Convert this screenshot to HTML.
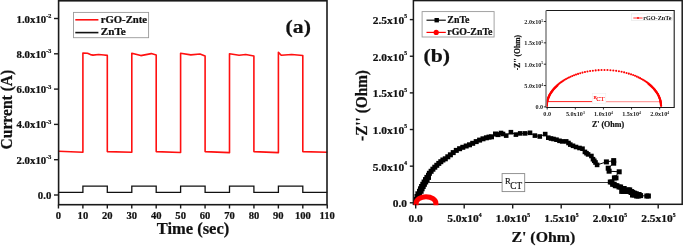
<!DOCTYPE html>
<html><head><meta charset="utf-8"><style>
html,body{margin:0;padding:0;background:#fff;}
body{width:684px;height:246px;overflow:hidden;}
svg{display:block;font-family:"Liberation Serif", serif;will-change:transform;}
text{stroke:#111;stroke-width:0.22px;}
text.n{stroke:none;}
</style></head><body>
<svg width="684" height="246" viewBox="0 0 684 246">
<rect width="684" height="246" fill="#fff"/>
<path d="M58.5,151.3 L82.9,152.3 L82.9,53.0 L87.5,53.3 L90.5,54.6 L93.0,55.1 L98.7,54.5 L104.0,55.0 L107.3,55.4 L107.3,151.6 L131.8,152.3 L131.8,53.2 L140.8,55.6 L151.3,53.6 L156.2,54.9 L156.2,151.6 L180.6,152.5 L180.6,53.2 L190.8,54.9 L200.0,54.0 L205.1,56.0 L205.1,151.6 L229.5,152.6 L229.5,53.8 L239.1,55.3 L245.7,54.5 L253.9,56.0 L253.9,151.6 L278.4,152.6 L278.4,52.2 L281.2,55.3 L291.7,54.5 L302.8,55.5 L302.8,151.6 L327.2,152.2" fill="none" stroke="#ff1010" stroke-width="1.6" stroke-linejoin="round"/>
<path d="M58.5,192.3 L82.9,192.3 L82.9,186.2 L107.3,186.2 L107.3,192.3 L131.8,192.3 L131.8,186.2 L156.2,186.2 L156.2,192.3 L180.6,192.3 L180.6,186.2 L205.1,186.2 L205.1,192.3 L229.5,192.3 L229.5,186.2 L253.9,186.2 L253.9,192.3 L278.4,192.3 L278.4,186.2 L302.8,186.2 L302.8,192.3 L327.2,192.3" fill="none" stroke="#111" stroke-width="1.3"/>
<rect x="58.6" y="0.8" width="268.40" height="203.90" fill="none" stroke="#1a1a1a" stroke-width="1.6"/>
<line x1="54" y1="195.00" x2="58.6" y2="195.00" stroke="#1a1a1a" stroke-width="1.4"/>
<text transform="translate(51.30,199.00) scale(1.1,1)" text-anchor="end" font-size="9.8" font-weight="bold" fill="#111" >0.0</text>
<line x1="54" y1="159.70" x2="58.6" y2="159.70" stroke="#1a1a1a" stroke-width="1.4"/>
<text transform="translate(51.30,163.70) scale(1.1,1)" text-anchor="end" font-size="9.8" font-weight="bold" fill="#111" >2.0x10<tspan dy="-4.6" font-size="5.6">-3</tspan></text>
<line x1="54" y1="124.40" x2="58.6" y2="124.40" stroke="#1a1a1a" stroke-width="1.4"/>
<text transform="translate(51.30,128.40) scale(1.1,1)" text-anchor="end" font-size="9.8" font-weight="bold" fill="#111" >4.0x10<tspan dy="-4.6" font-size="5.6">-3</tspan></text>
<line x1="54" y1="89.10" x2="58.6" y2="89.10" stroke="#1a1a1a" stroke-width="1.4"/>
<text transform="translate(51.30,93.10) scale(1.1,1)" text-anchor="end" font-size="9.8" font-weight="bold" fill="#111" >6.0x10<tspan dy="-4.6" font-size="5.6">-3</tspan></text>
<line x1="54" y1="53.80" x2="58.6" y2="53.80" stroke="#1a1a1a" stroke-width="1.4"/>
<text transform="translate(51.30,57.80) scale(1.1,1)" text-anchor="end" font-size="9.8" font-weight="bold" fill="#111" >8.0x10<tspan dy="-4.6" font-size="5.6">-3</tspan></text>
<line x1="54" y1="18.50" x2="58.6" y2="18.50" stroke="#1a1a1a" stroke-width="1.4"/>
<text transform="translate(51.30,22.50) scale(1.1,1)" text-anchor="end" font-size="9.8" font-weight="bold" fill="#111" >1.0x10<tspan dy="-4.6" font-size="5.6">-2</tspan></text>
<line x1="58.45" y1="204.7" x2="58.45" y2="208.5" stroke="#1a1a1a" stroke-width="1.4"/>
<text transform="translate(58.45,219.20) scale(1.08,1)" text-anchor="middle" font-size="9.8" font-weight="bold" fill="#111" >0</text>
<line x1="82.89" y1="204.7" x2="82.89" y2="208.5" stroke="#1a1a1a" stroke-width="1.4"/>
<text transform="translate(82.89,219.20) scale(1.08,1)" text-anchor="middle" font-size="9.8" font-weight="bold" fill="#111" >10</text>
<line x1="107.32" y1="204.7" x2="107.32" y2="208.5" stroke="#1a1a1a" stroke-width="1.4"/>
<text transform="translate(107.32,219.20) scale(1.08,1)" text-anchor="middle" font-size="9.8" font-weight="bold" fill="#111" >20</text>
<line x1="131.76" y1="204.7" x2="131.76" y2="208.5" stroke="#1a1a1a" stroke-width="1.4"/>
<text transform="translate(131.76,219.20) scale(1.08,1)" text-anchor="middle" font-size="9.8" font-weight="bold" fill="#111" >30</text>
<line x1="156.19" y1="204.7" x2="156.19" y2="208.5" stroke="#1a1a1a" stroke-width="1.4"/>
<text transform="translate(156.19,219.20) scale(1.08,1)" text-anchor="middle" font-size="9.8" font-weight="bold" fill="#111" >40</text>
<line x1="180.63" y1="204.7" x2="180.63" y2="208.5" stroke="#1a1a1a" stroke-width="1.4"/>
<text transform="translate(180.63,219.20) scale(1.08,1)" text-anchor="middle" font-size="9.8" font-weight="bold" fill="#111" >50</text>
<line x1="205.07" y1="204.7" x2="205.07" y2="208.5" stroke="#1a1a1a" stroke-width="1.4"/>
<text transform="translate(205.07,219.20) scale(1.08,1)" text-anchor="middle" font-size="9.8" font-weight="bold" fill="#111" >60</text>
<line x1="229.50" y1="204.7" x2="229.50" y2="208.5" stroke="#1a1a1a" stroke-width="1.4"/>
<text transform="translate(229.50,219.20) scale(1.08,1)" text-anchor="middle" font-size="9.8" font-weight="bold" fill="#111" >70</text>
<line x1="253.94" y1="204.7" x2="253.94" y2="208.5" stroke="#1a1a1a" stroke-width="1.4"/>
<text transform="translate(253.94,219.20) scale(1.08,1)" text-anchor="middle" font-size="9.8" font-weight="bold" fill="#111" >80</text>
<line x1="278.37" y1="204.7" x2="278.37" y2="208.5" stroke="#1a1a1a" stroke-width="1.4"/>
<text transform="translate(278.37,219.20) scale(1.08,1)" text-anchor="middle" font-size="9.8" font-weight="bold" fill="#111" >90</text>
<line x1="302.81" y1="204.7" x2="302.81" y2="208.5" stroke="#1a1a1a" stroke-width="1.4"/>
<text transform="translate(302.81,219.20) scale(1.08,1)" text-anchor="middle" font-size="9.8" font-weight="bold" fill="#111" >100</text>
<line x1="327.25" y1="204.7" x2="327.25" y2="208.5" stroke="#1a1a1a" stroke-width="1.4"/>
<text transform="translate(327.25,219.20) scale(1.08,1)" text-anchor="middle" font-size="9.8" font-weight="bold" fill="#111" >110</text>
<text transform="translate(193.00,234.40) scale(1.045,1)" text-anchor="middle" font-size="15.8" font-weight="bold" fill="#111" >Time (sec)</text>
<text transform="translate(12.1,109.6) rotate(-90) scale(1,1.12)" text-anchor="middle" font-size="15.6" font-weight="bold" fill="#111">Current (A)</text>
<text transform="translate(285.60,33.00) scale(1.13,1)" text-anchor="start" font-size="19.2" font-weight="bold" fill="#111" >(a)</text>
<rect x="73.5" y="12.4" width="75.1" height="25.3" fill="#fff" stroke="#999" stroke-width="0.9"/>
<line x1="75.3" y1="19.8" x2="98.4" y2="19.8" stroke="#ff1010" stroke-width="1.6"/>
<line x1="75.3" y1="32.6" x2="98.4" y2="32.6" stroke="#111" stroke-width="1.6"/>
<text transform="translate(100.70,22.80) scale(1.14,1)" text-anchor="start" font-size="9.4" font-weight="bold" fill="#111" >rGO-Znte</text>
<text transform="translate(100.70,35.40) scale(1.19,1)" text-anchor="start" font-size="9.4" font-weight="bold" fill="#111" >ZnTe</text>
<line x1="427" y1="182.5" x2="609.6" y2="182.5" stroke="#333" stroke-width="1.1"/>
<rect x="502.1" y="173.6" width="22.6" height="18.0" fill="#fff" stroke="#888" stroke-width="0.9"/>
<text class="n" x="505.0" y="184.3" font-size="8.6" fill="#111" style="stroke:#111;stroke-width:0.15px">R</text>
<text class="n" x="510.3" y="188.7" font-size="9.3" fill="#111" style="stroke:#111;stroke-width:0.15px">CT</text>
<polyline points="415.5,202.5 416.2,199.5 417.0,196.5 417.9,193.8 419.5,191.3 420.5,188.8 421.6,186.5 422.8,184.3 424.1,182.0 425.5,179.6 426.9,177.4 428.5,175.3 429.4,173.3 431.1,171.3 432.9,169.2 434.8,167.2 436.8,165.3 438.8,163.4 440.8,161.7 442.9,160.0 445.3,158.8 447.8,156.8 450.4,154.8 453.2,152.6 456.3,150.4 459.6,148.7 462.8,147.3 466.2,146.0 469.5,144.8 472.7,143.3 476.2,141.6 479.6,140.1 483.0,138.8 486.4,137.8 489.0,137.1 491.5,136.8 495.5,134.0 498.0,134.6 501.0,133.0 503.0,134.0 506.2,135.6 510.9,132.2 515.9,134.6 520.2,133.4 525.1,133.4 530.0,132.8 534.9,135.6 539.8,136.5 545.2,134.1 548.3,137.7 551.0,138.5 553.5,139.0 556.5,139.7 559.5,140.8 562.2,141.4 566.2,141.4 568.5,143.0 570.3,144.6 573.0,145.8 576.0,147.0 579.5,148.0 582.5,148.7 584.9,151.9 586.5,153.2 588.1,154.4 591.4,156.0 593.0,159.2 594.3,160.8 595.5,162.5 597.1,164.9 606.4,161.9 613.7,160.6 613.7,163.2 608.2,168.2 609.1,171.2 619.2,171.8 614.4,177.9 610.3,182.0 612.6,184.3 615.3,185.7 619.0,187.0 621.7,191.4 622.6,188.5 624.5,190.4 628.1,189.9 626.7,191.5 630.1,191.6 631.1,192.5 633.0,193.2 632.5,195.0 634.7,193.8 636.6,196.0 637.5,194.5 639.0,195.6 646.8,196.0" fill="none" stroke="#000" stroke-width="1"/>
<rect x="413.00" y="200.00" width="5.0" height="5.0" fill="#000"/>
<rect x="413.70" y="197.00" width="5.0" height="5.0" fill="#000"/>
<rect x="414.50" y="194.00" width="5.0" height="5.0" fill="#000"/>
<rect x="415.40" y="191.30" width="5.0" height="5.0" fill="#000"/>
<rect x="417.00" y="188.80" width="5.0" height="5.0" fill="#000"/>
<rect x="418.00" y="186.30" width="5.0" height="5.0" fill="#000"/>
<rect x="419.10" y="184.00" width="5.0" height="5.0" fill="#000"/>
<rect x="420.30" y="181.80" width="5.0" height="5.0" fill="#000"/>
<rect x="421.60" y="179.50" width="5.0" height="5.0" fill="#000"/>
<rect x="423.00" y="177.10" width="5.0" height="5.0" fill="#000"/>
<rect x="424.40" y="174.90" width="5.0" height="5.0" fill="#000"/>
<rect x="426.00" y="172.80" width="5.0" height="5.0" fill="#000"/>
<rect x="426.90" y="170.80" width="5.0" height="5.0" fill="#000"/>
<rect x="428.60" y="168.80" width="5.0" height="5.0" fill="#000"/>
<rect x="430.40" y="166.70" width="5.0" height="5.0" fill="#000"/>
<rect x="432.30" y="164.70" width="5.0" height="5.0" fill="#000"/>
<rect x="434.30" y="162.80" width="5.0" height="5.0" fill="#000"/>
<rect x="436.30" y="160.90" width="5.0" height="5.0" fill="#000"/>
<rect x="438.30" y="159.20" width="5.0" height="5.0" fill="#000"/>
<rect x="440.40" y="157.50" width="5.0" height="5.0" fill="#000"/>
<rect x="442.80" y="156.30" width="5.0" height="5.0" fill="#000"/>
<rect x="445.30" y="154.30" width="5.0" height="5.0" fill="#000"/>
<rect x="447.90" y="152.30" width="5.0" height="5.0" fill="#000"/>
<rect x="450.70" y="150.10" width="5.0" height="5.0" fill="#000"/>
<rect x="453.80" y="147.90" width="5.0" height="5.0" fill="#000"/>
<rect x="457.10" y="146.20" width="5.0" height="5.0" fill="#000"/>
<rect x="460.30" y="144.80" width="5.0" height="5.0" fill="#000"/>
<rect x="463.70" y="143.50" width="5.0" height="5.0" fill="#000"/>
<rect x="467.00" y="142.30" width="5.0" height="5.0" fill="#000"/>
<rect x="470.20" y="140.80" width="5.0" height="5.0" fill="#000"/>
<rect x="473.70" y="139.10" width="5.0" height="5.0" fill="#000"/>
<rect x="477.10" y="137.60" width="5.0" height="5.0" fill="#000"/>
<rect x="480.50" y="136.30" width="5.0" height="5.0" fill="#000"/>
<rect x="483.90" y="135.30" width="5.0" height="5.0" fill="#000"/>
<rect x="486.50" y="134.60" width="5.0" height="5.0" fill="#000"/>
<rect x="489.00" y="134.30" width="5.0" height="5.0" fill="#000"/>
<rect x="493.00" y="131.50" width="5.0" height="5.0" fill="#000"/>
<rect x="495.50" y="132.10" width="5.0" height="5.0" fill="#000"/>
<rect x="498.70" y="130.70" width="4.6" height="4.6" fill="#000"/>
<rect x="500.70" y="131.70" width="4.6" height="4.6" fill="#000"/>
<rect x="503.90" y="133.30" width="4.6" height="4.6" fill="#000"/>
<rect x="508.60" y="129.90" width="4.6" height="4.6" fill="#000"/>
<rect x="513.60" y="132.30" width="4.6" height="4.6" fill="#000"/>
<rect x="517.90" y="131.10" width="4.6" height="4.6" fill="#000"/>
<rect x="522.80" y="131.10" width="4.6" height="4.6" fill="#000"/>
<rect x="527.70" y="130.50" width="4.6" height="4.6" fill="#000"/>
<rect x="532.60" y="133.30" width="4.6" height="4.6" fill="#000"/>
<rect x="537.50" y="134.20" width="4.6" height="4.6" fill="#000"/>
<rect x="542.90" y="131.80" width="4.6" height="4.6" fill="#000"/>
<rect x="546.00" y="135.40" width="4.6" height="4.6" fill="#000"/>
<rect x="548.70" y="136.20" width="4.6" height="4.6" fill="#000"/>
<rect x="551.20" y="136.70" width="4.6" height="4.6" fill="#000"/>
<rect x="554.20" y="137.40" width="4.6" height="4.6" fill="#000"/>
<rect x="557.20" y="138.50" width="4.6" height="4.6" fill="#000"/>
<rect x="559.90" y="139.10" width="4.6" height="4.6" fill="#000"/>
<rect x="563.90" y="139.10" width="4.6" height="4.6" fill="#000"/>
<rect x="566.20" y="140.70" width="4.6" height="4.6" fill="#000"/>
<rect x="568.00" y="142.30" width="4.6" height="4.6" fill="#000"/>
<rect x="570.70" y="143.50" width="4.6" height="4.6" fill="#000"/>
<rect x="573.70" y="144.70" width="4.6" height="4.6" fill="#000"/>
<rect x="577.20" y="145.70" width="4.6" height="4.6" fill="#000"/>
<rect x="580.20" y="146.40" width="4.6" height="4.6" fill="#000"/>
<rect x="582.60" y="149.60" width="4.6" height="4.6" fill="#000"/>
<rect x="584.20" y="150.90" width="4.6" height="4.6" fill="#000"/>
<rect x="585.80" y="152.10" width="4.6" height="4.6" fill="#000"/>
<rect x="589.10" y="153.70" width="4.6" height="4.6" fill="#000"/>
<rect x="590.70" y="156.90" width="4.6" height="4.6" fill="#000"/>
<rect x="592.00" y="158.50" width="4.6" height="4.6" fill="#000"/>
<rect x="593.20" y="160.20" width="4.6" height="4.6" fill="#000"/>
<rect x="594.80" y="162.60" width="4.6" height="4.6" fill="#000"/>
<rect x="603.90" y="159.40" width="5.0" height="5.0" fill="#000"/>
<rect x="611.20" y="158.10" width="5.0" height="5.0" fill="#000"/>
<rect x="611.20" y="160.70" width="5.0" height="5.0" fill="#000"/>
<rect x="605.70" y="165.70" width="5.0" height="5.0" fill="#000"/>
<rect x="606.60" y="168.70" width="5.0" height="5.0" fill="#000"/>
<rect x="616.70" y="169.30" width="5.0" height="5.0" fill="#000"/>
<rect x="611.90" y="175.40" width="5.0" height="5.0" fill="#000"/>
<rect x="607.80" y="179.50" width="5.0" height="5.0" fill="#000"/>
<rect x="610.10" y="181.80" width="5.0" height="5.0" fill="#000"/>
<rect x="612.80" y="183.20" width="5.0" height="5.0" fill="#000"/>
<rect x="616.50" y="184.50" width="5.0" height="5.0" fill="#000"/>
<rect x="619.20" y="188.90" width="5.0" height="5.0" fill="#000"/>
<rect x="620.10" y="186.00" width="5.0" height="5.0" fill="#000"/>
<rect x="622.00" y="187.90" width="5.0" height="5.0" fill="#000"/>
<rect x="625.60" y="187.40" width="5.0" height="5.0" fill="#000"/>
<rect x="624.20" y="189.00" width="5.0" height="5.0" fill="#000"/>
<rect x="627.60" y="189.10" width="5.0" height="5.0" fill="#000"/>
<rect x="628.60" y="190.00" width="5.0" height="5.0" fill="#000"/>
<rect x="630.50" y="190.70" width="5.0" height="5.0" fill="#000"/>
<rect x="630.00" y="192.50" width="5.0" height="5.0" fill="#000"/>
<rect x="632.20" y="191.30" width="5.0" height="5.0" fill="#000"/>
<rect x="634.10" y="193.50" width="5.0" height="5.0" fill="#000"/>
<rect x="635.00" y="192.00" width="5.0" height="5.0" fill="#000"/>
<rect x="636.50" y="193.10" width="5.0" height="5.0" fill="#000"/>
<rect x="644.30" y="193.50" width="5.0" height="5.0" fill="#000"/>
<rect x="416.10" y="194.00" width="5.0" height="5.0" fill="#000"/>
<rect x="417.00" y="191.30" width="5.0" height="5.0" fill="#000"/>
<rect x="418.60" y="188.80" width="5.0" height="5.0" fill="#000"/>
<rect x="419.60" y="186.30" width="5.0" height="5.0" fill="#000"/>
<rect x="420.70" y="184.00" width="5.0" height="5.0" fill="#000"/>
<rect x="421.90" y="181.80" width="5.0" height="5.0" fill="#000"/>
<rect x="423.20" y="179.50" width="5.0" height="5.0" fill="#000"/>
<rect x="424.60" y="177.10" width="5.0" height="5.0" fill="#000"/>
<rect x="426.00" y="174.90" width="5.0" height="5.0" fill="#000"/>
<rect x="613.50" y="175.40" width="5.0" height="5.0" fill="#000"/>
<rect x="609.40" y="179.50" width="5.0" height="5.0" fill="#000"/>
<rect x="611.70" y="181.80" width="5.0" height="5.0" fill="#000"/>
<rect x="614.40" y="183.20" width="5.0" height="5.0" fill="#000"/>
<rect x="618.10" y="184.50" width="5.0" height="5.0" fill="#000"/>
<rect x="620.80" y="188.90" width="5.0" height="5.0" fill="#000"/>
<rect x="621.70" y="186.00" width="5.0" height="5.0" fill="#000"/>
<rect x="623.60" y="187.90" width="5.0" height="5.0" fill="#000"/>
<rect x="627.20" y="187.40" width="5.0" height="5.0" fill="#000"/>
<rect x="625.80" y="189.00" width="5.0" height="5.0" fill="#000"/>
<rect x="629.20" y="189.10" width="5.0" height="5.0" fill="#000"/>
<rect x="630.20" y="190.00" width="5.0" height="5.0" fill="#000"/>
<rect x="632.10" y="190.70" width="5.0" height="5.0" fill="#000"/>
<rect x="631.60" y="192.50" width="5.0" height="5.0" fill="#000"/>
<rect x="633.80" y="191.30" width="5.0" height="5.0" fill="#000"/>
<rect x="635.70" y="193.50" width="5.0" height="5.0" fill="#000"/>
<rect x="636.60" y="192.00" width="5.0" height="5.0" fill="#000"/>
<rect x="638.10" y="193.10" width="5.0" height="5.0" fill="#000"/>
<rect x="645.90" y="193.50" width="5.0" height="5.0" fill="#000"/>
<rect x="413.4" y="0.6" width="268.80" height="203.70" fill="none" stroke="#1a1a1a" stroke-width="1.5"/>
<path d="M416.1,205.2 L416.1,203.3 A9.8,6.5 0 0 1 435.9,203.3 L435.9,205.2" fill="none" stroke="#ff0000" stroke-width="5"/>
<line x1="409.8" y1="202.80" x2="413.4" y2="202.80" stroke="#1a1a1a" stroke-width="1.4"/>
<text transform="translate(407.00,207.20) scale(1.08,1)" text-anchor="end" font-size="10.6" font-weight="bold" fill="#111" >0.0</text>
<line x1="409.8" y1="166.16" x2="413.4" y2="166.16" stroke="#1a1a1a" stroke-width="1.4"/>
<text transform="translate(407.00,170.56) scale(1.08,1)" text-anchor="end" font-size="10.6" font-weight="bold" fill="#111" >5.0x10<tspan dy="-5.6" font-size="5.2">4</tspan></text>
<line x1="409.8" y1="129.52" x2="413.4" y2="129.52" stroke="#1a1a1a" stroke-width="1.4"/>
<text transform="translate(407.00,133.92) scale(1.08,1)" text-anchor="end" font-size="10.6" font-weight="bold" fill="#111" >1.0x10<tspan dy="-5.6" font-size="5.2">5</tspan></text>
<line x1="409.8" y1="92.88" x2="413.4" y2="92.88" stroke="#1a1a1a" stroke-width="1.4"/>
<text transform="translate(407.00,97.28) scale(1.08,1)" text-anchor="end" font-size="10.6" font-weight="bold" fill="#111" >1.5x10<tspan dy="-5.6" font-size="5.2">5</tspan></text>
<line x1="409.8" y1="56.24" x2="413.4" y2="56.24" stroke="#1a1a1a" stroke-width="1.4"/>
<text transform="translate(407.00,60.64) scale(1.08,1)" text-anchor="end" font-size="10.6" font-weight="bold" fill="#111" >2.0x10<tspan dy="-5.6" font-size="5.2">5</tspan></text>
<line x1="409.8" y1="19.60" x2="413.4" y2="19.60" stroke="#1a1a1a" stroke-width="1.4"/>
<text transform="translate(407.00,24.00) scale(1.08,1)" text-anchor="end" font-size="10.6" font-weight="bold" fill="#111" >2.5x10<tspan dy="-5.6" font-size="5.2">5</tspan></text>
<line x1="415.70" y1="204.3" x2="415.70" y2="208.5" stroke="#1a1a1a" stroke-width="1.4"/>
<text transform="translate(415.70,222.40) scale(1.08,1)" text-anchor="middle" font-size="10.6" font-weight="bold" fill="#111" >0.0</text>
<line x1="464.20" y1="204.3" x2="464.20" y2="208.5" stroke="#1a1a1a" stroke-width="1.4"/>
<text transform="translate(464.40,222.40) scale(1.08,1)" text-anchor="middle" font-size="10.6" font-weight="bold" fill="#111" >5.0x10<tspan dy="-5.6" font-size="5.2">4</tspan></text>
<line x1="512.70" y1="204.3" x2="512.70" y2="208.5" stroke="#1a1a1a" stroke-width="1.4"/>
<text transform="translate(512.90,222.40) scale(1.08,1)" text-anchor="middle" font-size="10.6" font-weight="bold" fill="#111" >1.0x10<tspan dy="-5.6" font-size="5.2">5</tspan></text>
<line x1="561.20" y1="204.3" x2="561.20" y2="208.5" stroke="#1a1a1a" stroke-width="1.4"/>
<text transform="translate(561.40,222.40) scale(1.08,1)" text-anchor="middle" font-size="10.6" font-weight="bold" fill="#111" >1.5x10<tspan dy="-5.6" font-size="5.2">5</tspan></text>
<line x1="609.70" y1="204.3" x2="609.70" y2="208.5" stroke="#1a1a1a" stroke-width="1.4"/>
<text transform="translate(609.90,222.40) scale(1.08,1)" text-anchor="middle" font-size="10.6" font-weight="bold" fill="#111" >2.0x10<tspan dy="-5.6" font-size="5.2">5</tspan></text>
<line x1="658.20" y1="204.3" x2="658.20" y2="208.5" stroke="#1a1a1a" stroke-width="1.4"/>
<text transform="translate(658.40,222.40) scale(1.08,1)" text-anchor="middle" font-size="10.6" font-weight="bold" fill="#111" >2.5x10<tspan dy="-5.6" font-size="5.2">5</tspan></text>
<text transform="translate(511.40,242.20) scale(1.06,1)" text-anchor="start" font-size="15" font-weight="bold" fill="#111" >Z' (Ohm)</text>
<text transform="translate(366.6,105.5) rotate(-90) scale(1,1.08)" text-anchor="middle" font-size="15.3" font-weight="bold" fill="#111">-Z'' (Ohm)</text>
<text transform="translate(423.60,62.00) scale(1.13,1)" text-anchor="start" font-size="19.2" font-weight="bold" fill="#111" >(b)</text>
<rect x="422.1" y="11.6" width="72" height="25.4" fill="#fff" stroke="#999" stroke-width="0.9"/>
<line x1="426.5" y1="20.2" x2="445.8" y2="20.2" stroke="#111" stroke-width="1.2"/>
<rect x="434.5" y="18.0" width="4.4" height="4.4" fill="#000"/>
<line x1="426.5" y1="32.4" x2="445.8" y2="32.4" stroke="#ff0000" stroke-width="1.2"/>
<circle cx="436.2" cy="32.4" r="2.6" fill="#ff0000"/>
<text transform="translate(447.30,22.80) scale(1.03,1)" text-anchor="start" font-size="9.6" font-weight="bold" fill="#111" >ZnTe</text>
<text transform="translate(447.30,35.00) scale(1.03,1)" text-anchor="start" font-size="9.6" font-weight="bold" fill="#111" >rGO-ZnTe</text>
<line x1="546.5" y1="101.6" x2="592.5" y2="101.6" stroke="#ff2020" stroke-width="1.0"/>
<line x1="606" y1="101.6" x2="660" y2="101.6" stroke="#ffa0a0" stroke-width="1.3"/>
<rect x="592.4" y="93.4" width="13.4" height="9.8" fill="#fff" stroke="#eee" stroke-width="0.6"/>
<text class="n" x="593.6" y="99.3" font-size="5.0" fill="#ff0000" style="stroke:#f00;stroke-width:0.15px">R</text>
<text class="n" x="596.3" y="101.3" font-size="6.3" fill="#ff0000" style="stroke:#f00;stroke-width:0.15px">CT</text>
<circle cx="546.70" cy="106.20" r="1.05" fill="#ff0000"/>
<circle cx="546.71" cy="105.55" r="1.05" fill="#ff0000"/>
<circle cx="546.74" cy="104.90" r="1.05" fill="#ff0000"/>
<circle cx="546.78" cy="104.25" r="1.05" fill="#ff0000"/>
<circle cx="546.85" cy="103.60" r="1.05" fill="#ff0000"/>
<circle cx="546.93" cy="102.95" r="1.05" fill="#ff0000"/>
<circle cx="547.03" cy="102.30" r="1.05" fill="#ff0000"/>
<circle cx="547.15" cy="101.65" r="1.05" fill="#ff0000"/>
<circle cx="547.29" cy="101.00" r="1.05" fill="#ff0000"/>
<circle cx="547.45" cy="100.35" r="1.05" fill="#ff0000"/>
<circle cx="547.63" cy="99.70" r="1.05" fill="#ff0000"/>
<circle cx="547.82" cy="99.06" r="1.05" fill="#ff0000"/>
<circle cx="548.04" cy="98.41" r="1.05" fill="#ff0000"/>
<circle cx="548.27" cy="97.76" r="1.05" fill="#ff0000"/>
<circle cx="548.53" cy="97.12" r="1.05" fill="#ff0000"/>
<circle cx="548.81" cy="96.47" r="1.05" fill="#ff0000"/>
<circle cx="549.10" cy="95.82" r="1.05" fill="#ff0000"/>
<circle cx="549.42" cy="95.17" r="1.05" fill="#ff0000"/>
<circle cx="549.76" cy="94.52" r="1.05" fill="#ff0000"/>
<circle cx="550.12" cy="93.86" r="1.05" fill="#ff0000"/>
<circle cx="550.51" cy="93.21" r="1.05" fill="#ff0000"/>
<circle cx="550.92" cy="92.55" r="1.05" fill="#ff0000"/>
<circle cx="551.36" cy="91.89" r="1.05" fill="#ff0000"/>
<circle cx="551.83" cy="91.22" r="1.05" fill="#ff0000"/>
<circle cx="552.32" cy="90.55" r="1.05" fill="#ff0000"/>
<circle cx="552.84" cy="89.88" r="1.05" fill="#ff0000"/>
<circle cx="553.40" cy="89.20" r="1.05" fill="#ff0000"/>
<circle cx="553.99" cy="88.52" r="1.05" fill="#ff0000"/>
<circle cx="554.61" cy="87.83" r="1.05" fill="#ff0000"/>
<circle cx="555.28" cy="87.13" r="1.05" fill="#ff0000"/>
<circle cx="555.98" cy="86.43" r="1.05" fill="#ff0000"/>
<circle cx="556.73" cy="85.72" r="1.05" fill="#ff0000"/>
<circle cx="557.53" cy="85.01" r="1.05" fill="#ff0000"/>
<circle cx="558.37" cy="84.28" r="1.05" fill="#ff0000"/>
<circle cx="559.27" cy="83.56" r="1.05" fill="#ff0000"/>
<circle cx="560.23" cy="82.82" r="1.05" fill="#ff0000"/>
<circle cx="561.25" cy="82.08" r="1.05" fill="#ff0000"/>
<circle cx="562.33" cy="81.33" r="1.05" fill="#ff0000"/>
<circle cx="563.49" cy="80.58" r="1.05" fill="#ff0000"/>
<circle cx="564.73" cy="79.82" r="1.05" fill="#ff0000"/>
<circle cx="566.04" cy="79.06" r="1.05" fill="#ff0000"/>
<circle cx="567.45" cy="78.30" r="1.05" fill="#ff0000"/>
<circle cx="568.95" cy="77.54" r="1.05" fill="#ff0000"/>
<circle cx="570.55" cy="76.79" r="1.05" fill="#ff0000"/>
<circle cx="572.26" cy="76.04" r="1.05" fill="#ff0000"/>
<circle cx="574.07" cy="75.31" r="1.05" fill="#ff0000"/>
<circle cx="576.00" cy="74.60" r="1.05" fill="#ff0000"/>
<circle cx="578.05" cy="73.91" r="1.05" fill="#ff0000"/>
<circle cx="580.23" cy="73.25" r="1.05" fill="#ff0000"/>
<circle cx="582.52" cy="72.62" r="1.05" fill="#ff0000"/>
<circle cx="584.94" cy="72.05" r="1.05" fill="#ff0000"/>
<circle cx="587.47" cy="71.53" r="1.05" fill="#ff0000"/>
<circle cx="590.11" cy="71.07" r="1.05" fill="#ff0000"/>
<circle cx="592.85" cy="70.68" r="1.05" fill="#ff0000"/>
<circle cx="595.68" cy="70.38" r="1.05" fill="#ff0000"/>
<circle cx="598.57" cy="70.16" r="1.05" fill="#ff0000"/>
<circle cx="601.51" cy="70.03" r="1.05" fill="#ff0000"/>
<circle cx="604.48" cy="70.00" r="1.05" fill="#ff0000"/>
<circle cx="607.45" cy="70.07" r="1.05" fill="#ff0000"/>
<circle cx="610.40" cy="70.23" r="1.05" fill="#ff0000"/>
<circle cx="613.31" cy="70.49" r="1.05" fill="#ff0000"/>
<circle cx="616.15" cy="70.84" r="1.05" fill="#ff0000"/>
<circle cx="618.91" cy="71.27" r="1.05" fill="#ff0000"/>
<circle cx="621.57" cy="71.77" r="1.05" fill="#ff0000"/>
<circle cx="624.12" cy="72.34" r="1.05" fill="#ff0000"/>
<circle cx="626.55" cy="72.96" r="1.05" fill="#ff0000"/>
<circle cx="628.86" cy="73.63" r="1.05" fill="#ff0000"/>
<circle cx="631.04" cy="74.33" r="1.05" fill="#ff0000"/>
<circle cx="633.09" cy="75.07" r="1.05" fill="#ff0000"/>
<circle cx="635.01" cy="75.82" r="1.05" fill="#ff0000"/>
<circle cx="636.82" cy="76.60" r="1.05" fill="#ff0000"/>
<circle cx="638.51" cy="77.38" r="1.05" fill="#ff0000"/>
<circle cx="640.09" cy="78.17" r="1.05" fill="#ff0000"/>
<circle cx="641.56" cy="78.96" r="1.05" fill="#ff0000"/>
<circle cx="642.94" cy="79.74" r="1.05" fill="#ff0000"/>
<circle cx="644.23" cy="80.53" r="1.05" fill="#ff0000"/>
<circle cx="645.43" cy="81.31" r="1.05" fill="#ff0000"/>
<circle cx="646.56" cy="82.08" r="1.05" fill="#ff0000"/>
<circle cx="647.61" cy="82.85" r="1.05" fill="#ff0000"/>
<circle cx="648.60" cy="83.61" r="1.05" fill="#ff0000"/>
<circle cx="649.52" cy="84.36" r="1.05" fill="#ff0000"/>
<circle cx="650.38" cy="85.10" r="1.05" fill="#ff0000"/>
<circle cx="651.19" cy="85.84" r="1.05" fill="#ff0000"/>
<circle cx="651.95" cy="86.56" r="1.05" fill="#ff0000"/>
<circle cx="652.67" cy="87.28" r="1.05" fill="#ff0000"/>
<circle cx="653.34" cy="87.99" r="1.05" fill="#ff0000"/>
<circle cx="653.97" cy="88.69" r="1.05" fill="#ff0000"/>
<circle cx="654.56" cy="89.39" r="1.05" fill="#ff0000"/>
<circle cx="655.11" cy="90.08" r="1.05" fill="#ff0000"/>
<circle cx="655.64" cy="90.76" r="1.05" fill="#ff0000"/>
<circle cx="656.13" cy="91.44" r="1.05" fill="#ff0000"/>
<circle cx="656.59" cy="92.12" r="1.05" fill="#ff0000"/>
<circle cx="657.03" cy="92.79" r="1.05" fill="#ff0000"/>
<circle cx="657.44" cy="93.45" r="1.05" fill="#ff0000"/>
<circle cx="657.82" cy="94.11" r="1.05" fill="#ff0000"/>
<circle cx="658.18" cy="94.77" r="1.05" fill="#ff0000"/>
<circle cx="658.51" cy="95.43" r="1.05" fill="#ff0000"/>
<circle cx="658.82" cy="96.09" r="1.05" fill="#ff0000"/>
<circle cx="659.11" cy="96.74" r="1.05" fill="#ff0000"/>
<circle cx="659.38" cy="97.39" r="1.05" fill="#ff0000"/>
<circle cx="659.63" cy="98.04" r="1.05" fill="#ff0000"/>
<circle cx="659.86" cy="98.69" r="1.05" fill="#ff0000"/>
<circle cx="660.06" cy="99.34" r="1.05" fill="#ff0000"/>
<circle cx="660.25" cy="99.99" r="1.05" fill="#ff0000"/>
<circle cx="660.42" cy="100.64" r="1.05" fill="#ff0000"/>
<circle cx="660.57" cy="101.29" r="1.05" fill="#ff0000"/>
<circle cx="660.70" cy="101.94" r="1.05" fill="#ff0000"/>
<circle cx="660.81" cy="102.59" r="1.05" fill="#ff0000"/>
<circle cx="660.91" cy="103.24" r="1.05" fill="#ff0000"/>
<circle cx="660.98" cy="103.89" r="1.05" fill="#ff0000"/>
<circle cx="661.04" cy="104.54" r="1.05" fill="#ff0000"/>
<circle cx="661.08" cy="105.19" r="1.05" fill="#ff0000"/>
<circle cx="661.10" cy="105.84" r="1.05" fill="#ff0000"/>
<path d="M546.7,106.2 A57.2,36.2 0 0 1 558,85" fill="none" stroke="#ff0000" stroke-width="2.1"/>
<path d="M648,83.5 A57.2,36.2 0 0 1 661.1,106.2" fill="none" stroke="#ff0000" stroke-width="2.1"/>
<path d="M546.0,107.5 L674.2,107.5 L674.2,10.5 L546.0,10.5" fill="none" stroke="#1a1a1a" stroke-width="1.1"/>
<line x1="546.0" y1="10.5" x2="546.0" y2="107.5" stroke="#8a8a8a" stroke-width="1.6"/>
<line x1="543.8" y1="106.90" x2="546.0" y2="106.90" stroke="#1a1a1a" stroke-width="0.9"/>
<text transform="translate(543.20,109.30) scale(1.17,1)" text-anchor="end" font-size="5.3" font-weight="bold" fill="#222" class="n">0.0</text>
<line x1="543.8" y1="85.55" x2="546.0" y2="85.55" stroke="#1a1a1a" stroke-width="0.9"/>
<text transform="translate(543.20,87.95) scale(1.17,1)" text-anchor="end" font-size="5.3" font-weight="bold" fill="#222" class="n">5.0x10<tspan dy="-2.2" font-size="3.2">4</tspan></text>
<line x1="543.8" y1="64.20" x2="546.0" y2="64.20" stroke="#1a1a1a" stroke-width="0.9"/>
<text transform="translate(543.20,66.60) scale(1.17,1)" text-anchor="end" font-size="5.3" font-weight="bold" fill="#222" class="n">1.0x10<tspan dy="-2.2" font-size="3.2">5</tspan></text>
<line x1="543.8" y1="42.85" x2="546.0" y2="42.85" stroke="#1a1a1a" stroke-width="0.9"/>
<text transform="translate(543.20,45.25) scale(1.17,1)" text-anchor="end" font-size="5.3" font-weight="bold" fill="#222" class="n">1.5x10<tspan dy="-2.2" font-size="3.2">5</tspan></text>
<line x1="543.8" y1="21.50" x2="546.0" y2="21.50" stroke="#1a1a1a" stroke-width="0.9"/>
<text transform="translate(543.20,23.90) scale(1.17,1)" text-anchor="end" font-size="5.3" font-weight="bold" fill="#222" class="n">2.0x10<tspan dy="-2.2" font-size="3.2">5</tspan></text>
<line x1="547.20" y1="107.5" x2="547.20" y2="109.5" stroke="#1a1a1a" stroke-width="0.9"/>
<text transform="translate(547.20,115.90) scale(1.17,1)" text-anchor="middle" font-size="5.3" font-weight="bold" fill="#222" class="n">0.0</text>
<line x1="575.32" y1="107.5" x2="575.32" y2="109.5" stroke="#1a1a1a" stroke-width="0.9"/>
<text transform="translate(575.32,115.90) scale(1.17,1)" text-anchor="middle" font-size="5.3" font-weight="bold" fill="#222" class="n">5.0x10<tspan dy="-2.2" font-size="3.2">3</tspan></text>
<line x1="603.44" y1="107.5" x2="603.44" y2="109.5" stroke="#1a1a1a" stroke-width="0.9"/>
<text transform="translate(603.44,115.90) scale(1.17,1)" text-anchor="middle" font-size="5.3" font-weight="bold" fill="#222" class="n">1.0x10<tspan dy="-2.2" font-size="3.2">4</tspan></text>
<line x1="631.56" y1="107.5" x2="631.56" y2="109.5" stroke="#1a1a1a" stroke-width="0.9"/>
<text transform="translate(631.56,115.90) scale(1.17,1)" text-anchor="middle" font-size="5.3" font-weight="bold" fill="#222" class="n">1.5x10<tspan dy="-2.2" font-size="3.2">4</tspan></text>
<line x1="659.68" y1="107.5" x2="659.68" y2="109.5" stroke="#1a1a1a" stroke-width="0.9"/>
<text transform="translate(659.68,115.90) scale(1.17,1)" text-anchor="middle" font-size="5.3" font-weight="bold" fill="#222" class="n">2.0x10<tspan dy="-2.2" font-size="3.2">4</tspan></text>
<text x="608.00" y="127.20" text-anchor="middle" font-size="8" font-weight="bold" fill="#111" >Z' (Ohm)</text>
<text transform="translate(520.3,52.6) rotate(-90)" text-anchor="middle" font-size="7.6" font-weight="bold" fill="#111">-Z'' (Ohm)</text>
<rect x="631.7" y="13.9" width="40.6" height="6.5" fill="#fff" stroke="#ddd" stroke-width="0.5"/>
<line x1="633.3" y1="18" x2="642.6" y2="18" stroke="#ff0000" stroke-width="0.8"/>
<circle cx="638" cy="18" r="0.9" fill="#ff0000"/>
<text transform="translate(643.30,20.00) scale(0.98,1)" text-anchor="start" font-size="6.3" font-weight="bold" fill="#111" class="n">rGO-ZnTe</text>
</svg>
</body></html>
